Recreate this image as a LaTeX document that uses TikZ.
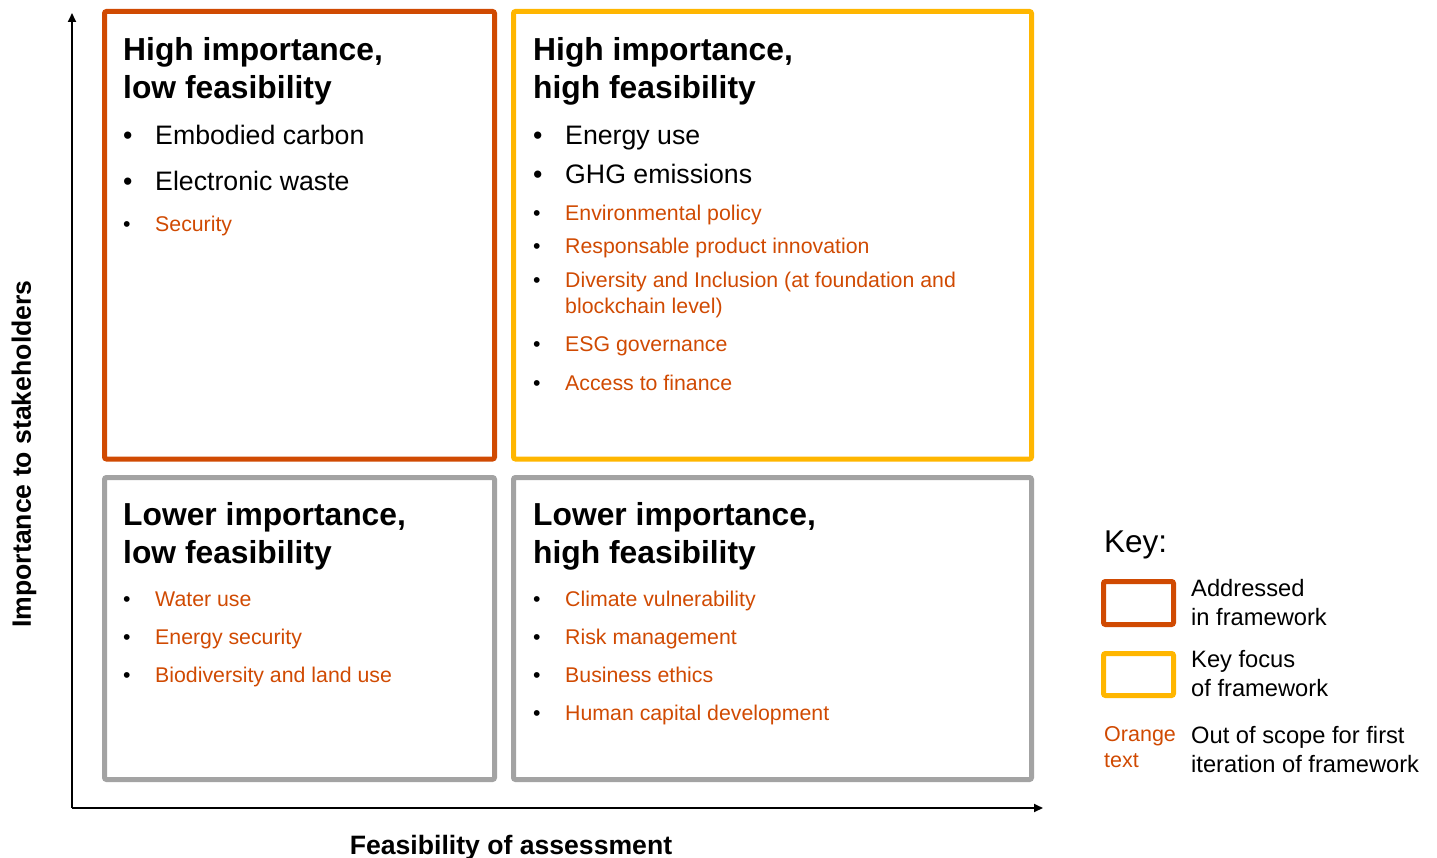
\documentclass[tikz,border=0pt]{standalone}
\usepackage{fontspec}
\setmainfont{Liberation Sans}
\usetikzlibrary{arrows.meta}

\definecolor{pwcorange}{HTML}{D04A02}
\definecolor{pwcyellow}{HTML}{FFB600}
\definecolor{pwcgrey}{HTML}{A3A3A3}

\newcommand{\stack}[1]{\begin{tabular}[t]{@{}l@{}}#1\end{tabular}}
\newcommand{\itm}[1]{\makebox[32pt][l]{\textcolor{black}{\textbullet}}\stack{#1}}

\begin{document}
\begin{tikzpicture}[
  x=1pt, y=-1pt,
  quad/.style={draw, line width=5pt, rounded corners=2pt, inner sep=0pt, outer sep=0pt, anchor=north west},
  heading/.style={font=\fontsize{31.8}{38}\selectfont\bfseries, anchor=base west, inner sep=0pt},
  mainitem/.style={font=\fontsize{26.7}{30}\selectfont, anchor=base west, inner sep=0pt},
  outitem/.style={font=\fontsize{21.3}{26}\selectfont, text=pwcorange, anchor=base west, inner sep=0pt},
  keytext/.style={font=\fontsize{23.7}{29}\selectfont, anchor=base west, inner sep=0pt},
  axislabel/.style={font=\fontsize{26.6}{30}\selectfont\bfseries, inner sep=0pt},
  axis/.style={line width=1.8pt, -{Triangle[length=9pt,width=8pt]}}
]
\useasboundingbox (0,0) rectangle (1437,858);

% the four quadrants
\node[quad, draw=pwcorange, minimum width=390pt, minimum height=447.5pt] (hilo) at (104.5,11.5) {};
\node[quad, draw=pwcyellow, minimum width=518pt, minimum height=447.5pt] (hihi) at (513.5,11.5) {};
\node[quad, draw=pwcgrey, minimum width=390pt, minimum height=302pt] (lolo) at (104.5,477.5) {};
\node[quad, draw=pwcgrey, minimum width=518pt, minimum height=302pt] (lohi) at (513.5,477.5) {};

% high importance, low feasibility
\node[heading] (hilo-title) at (123,61) {\stack{High importance,\\low feasibility}};
\foreach \yy/\txt in {145/Embodied carbon, 191/Electronic waste}
  \node[mainitem] (hilo-\yy) at (123,\yy) {\itm{\txt}};
\node[outitem] (hilo-232) at (123,232) {\itm{Security}};

% high importance, high feasibility
\node[heading] (hihi-title) at (533,61) {\stack{High importance,\\high feasibility}};
\foreach \yy/\txt in {145/Energy use, 184/GHG emissions}
  \node[mainitem] (hihi-\yy) at (533,\yy) {\itm{\txt}};
\foreach \yy/\txt in {221/Environmental policy, 254/Responsable product innovation,
    288/{Diversity and Inclusion (at foundation and\\blockchain level)},
    352/ESG governance, 390/Access to finance}
  \node[outitem] (hihi-\yy) at (533,\yy) {\itm{\txt}};

% lower importance, low feasibility
\node[heading] (lolo-title) at (123,525) {\stack{Lower importance,\\low feasibility}};
\foreach \yy/\txt in {606/Water use, 644/Energy security, 682/Biodiversity and land use}
  \node[outitem] (lolo-\yy) at (123,\yy) {\itm{\txt}};

% lower importance, high feasibility
\node[heading] (lohi-title) at (533,525) {\stack{Lower importance,\\high feasibility}};
\foreach \yy/\txt in {606/Climate vulnerability, 644/Risk management,
    682/Business ethics, 720/Human capital development}
  \node[outitem] (lohi-\yy) at (533,\yy) {\itm{\txt}};

% axes
\coordinate (origin) at (72,808);
\coordinate (ytip) at (72,13);
\coordinate (xtip) at (1043,808);
\draw[axis] (origin) -- (ytip);
\draw[axis] (origin) -- (xtip);
\node[axislabel, rotate=90] (ylab) at (24,454) {Importance to stakeholders};
\node[axislabel, anchor=base] (xlab) at (511,854) {Feasibility of assessment};

% key
\node[keytext, font=\fontsize{31.5}{34}\selectfont] (key) at (1104,552) {Key:};
\node[quad, draw=pwcorange, minimum width=70pt, minimum height=43pt] (key-red) at (1103.5,581.5) {};
\node[quad, draw=pwcyellow, minimum width=70pt, minimum height=42pt] (key-yel) at (1103.5,653.5) {};
\node[keytext] (key-red-txt) at (1191,596) {\stack{Addressed\\in framework}};
\node[keytext] (key-yel-txt) at (1191,667) {\stack{Key focus\\of framework}};
\node[keytext, font=\fontsize{21.5}{26}\selectfont, text=pwcorange] (key-out) at (1104,741) {\stack{Orange\\text}};
\node[keytext] (key-out-txt) at (1191,743) {\stack{Out of scope for first\\iteration of framework}};
\end{tikzpicture}
\end{document}
